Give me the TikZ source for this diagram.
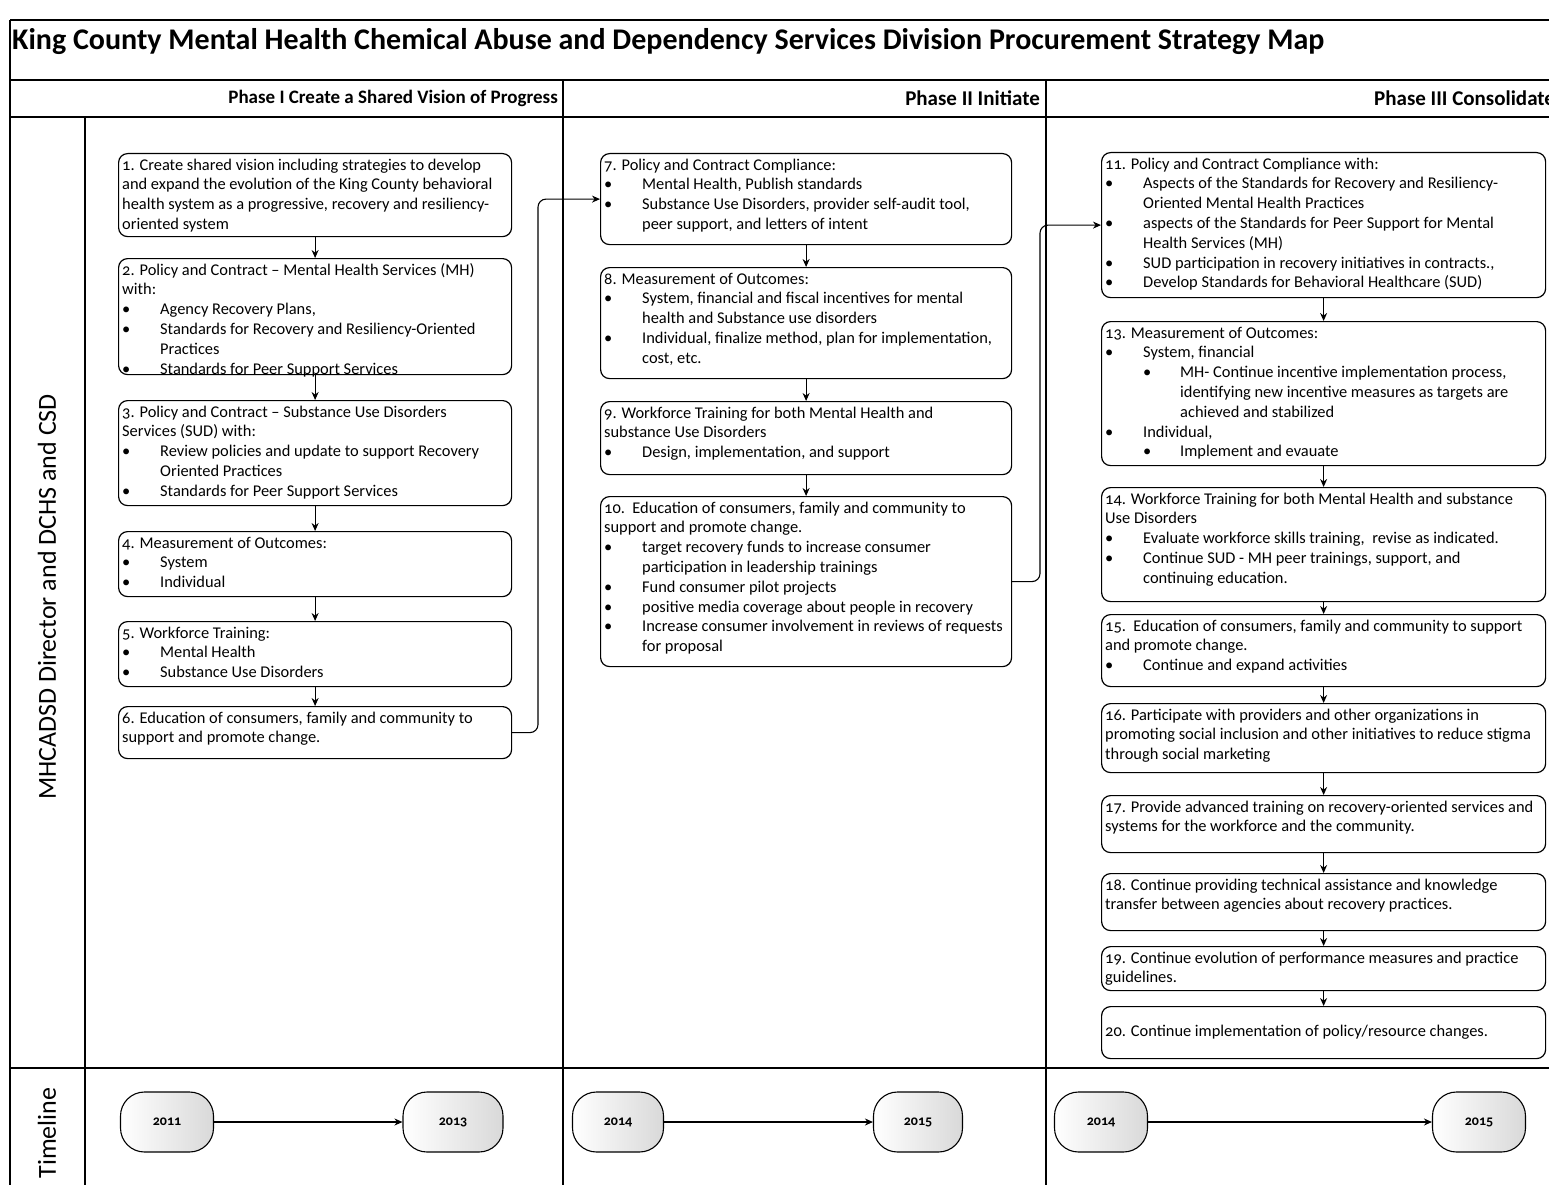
\documentclass[tikz,border=0pt]{standalone}
\usepackage{fontspec}
\setmainfont{Carlito}[Numbers=OldStyle]
\usetikzlibrary{arrows.meta,calc}
\newlength{\bind}\setlength{\bind}{38pt}
\newcommand{\bl}{\makebox[\bind][l]{\textbullet}}
\newcommand{\il}{\hspace*{\bind}}
\newcommand{\sbl}{\hspace*{\bind}\makebox[37pt][l]{\textbullet}}
\newcommand{\sil}{\hspace*{\bind}\hspace*{37pt}}
\tikzset{
  frame/.style={line width=1.2pt},
  box/.style={draw, line width=1.2pt, rounded corners=9pt},
  txt/.style={inner sep=0pt, align=left, anchor=north west, font=\fontsize{16.4}{19.8}\selectfont},
  flow/.style={line width=1.1pt, -{Stealth[length=8pt,width=7pt]}},
  year/.style={draw, line width=1.1pt, rounded corners=24pt, left color=white, right color=gray!30, font=\fontsize{14}{16}\selectfont\bfseries},
  phase/.style={inner sep=0pt, font=\fontsize{21}{23}\selectfont\bfseries},
}
\newcommand{\mkbox}[6]{%
  \node[box, anchor=north west, minimum width=#4pt, minimum height=#5pt, inner sep=0pt] (#1) at (#2,#3) {};
  \node[txt] (#1t) at ([shift={(4pt,-3pt)}]#1.north west) {\strut #6};
}
\begin{document}
\begin{tikzpicture}[x=1pt,y=-1pt]
\useasboundingbox (0,0) rectangle (1549,1185);
\fill[white] (0,0) rectangle (1549,1185);
% frame
\draw[frame] (10,20) -- (1549,20);
\draw[frame] (10,20) -- (10,1185);
\draw[frame] (10,80) -- (1549,80);
\draw[frame] (10,117) -- (1549,117);
\draw[frame] (10,1068) -- (1549,1068);
\draw[frame] (85,117) -- (85,1185);
\draw[frame] (563,80) -- (563,1185);
\draw[frame] (1046,80) -- (1046,1185);
% titles
\node[anchor=west, inner sep=0pt, font=\fontsize{30}{33}\selectfont\bfseries] (title) at (12,42) {King County Mental Health Chemical Abuse and Dependency Services Division Procurement Strategy Map};
\node[anchor=east, inner sep=0pt, font=\fontsize{19}{21}\selectfont\bfseries] (ph1) at (558,98) {Phase I Create a Shared Vision of Progress};
\node[phase, anchor=east] (ph2) at (1040,98) {Phase II Initiate};
\node[phase, anchor=west] (ph3) at (1374,98) {Phase III Consolidate};
\node[rotate=90, inner sep=0pt, font=\fontsize{26}{28}\selectfont] (lane) at (47,597) {MHCADSD Director and DCHS and CSD};
\node[rotate=90, inner sep=0pt, font=\fontsize{26}{28}\selectfont] (tl) at (47,1133) {Timeline};
% Phase I
\mkbox{b1}{118}{153}{393}{83}{1. Create shared vision including strategies to develop\\and expand the evolution of the King County behavioral\\health system as a progressive, recovery and resiliency-\\oriented system}
\mkbox{b2}{118}{258}{393}{116}{2. Policy and Contract -- Mental Health Services (MH)\\with:\\\bl Agency Recovery Plans,\\\bl Standards for Recovery and Resiliency-Oriented\\\il Practices\\\bl Standards for Peer Support Services}
\mkbox{b3}{118}{400}{393}{105}{3. Policy and Contract -- Substance Use Disorders\\Services (SUD) with:\\\bl Review policies and update to support Recovery\\\il Oriented Practices\\\bl Standards for Peer Support Services}
\mkbox{b4}{118}{531}{393}{65}{4. Measurement of Outcomes:\\\bl System\\\bl Individual}
\mkbox{b5}{118}{621}{393}{65}{5. Workforce Training:\\\bl Mental Health\\\bl Substance Use Disorders}
\mkbox{b6}{118}{706}{393}{52}{6. Education of consumers, family and community to\\support and promote change.}
% Phase II
\mkbox{b7}{600}{153}{411}{91}{7. Policy and Contract Compliance:\\\bl Mental Health, Publish standards\\\bl Substance Use Disorders, provider self-audit tool,\\\il peer support, and letters of intent}
\mkbox{b8}{600}{267}{411}{111}{8. Measurement of Outcomes:\\\bl System, financial and fiscal incentives for mental\\\il health and Substance use disorders\\\bl Individual, finalize method, plan for implementation,\\\il cost, etc.}
\mkbox{b9}{600}{401}{411}{73}{9. Workforce Training for both Mental Health and\\substance Use Disorders\\\bl Design, implementation, and support}
\mkbox{b10}{600}{496}{411}{170}{10.\ \ Education of consumers, family and community to\\support and promote change.\\\bl target recovery funds to increase consumer\\\il participation in leadership trainings\\\bl Fund consumer pilot projects\\\bl positive media coverage about people in recovery\\\bl Increase consumer involvement in reviews of requests\\\il for proposal}
% Phase III
\mkbox{b11}{1101}{152}{444}{145}{11. Policy and Contract Compliance with:\\\bl Aspects of the Standards for Recovery and Resiliency-\\\il Oriented Mental Health Practices\\\bl aspects of the Standards for Peer Support for Mental\\\il Health Services (MH)\\\bl SUD participation in recovery initiatives in contracts.,\\\bl Develop Standards for Behavioral Healthcare (SUD)}
\mkbox{b13}{1101}{321}{444}{144}{13. Measurement of Outcomes:\\\bl System, financial\\\sbl MH- Continue incentive implementation process,\\\sil identifying new incentive measures as targets are\\\sil achieved and stabilized\\\bl Individual,\\\sbl Implement and evauate}
\mkbox{b14}{1101}{487}{444}{114}{14. Workforce Training for both Mental Health and substance\\Use Disorders\\\bl Evaluate workforce skills training,\ \ revise as indicated.\\\bl Continue SUD - MH peer trainings, support, and\\\il continuing education.}
\mkbox{b15}{1101}{614}{444}{72}{15.\ \ Education of consumers, family and community to support\\and promote change.\\\bl Continue and expand activities}
\mkbox{b16}{1101}{703}{444}{69}{16. Participate with providers and other organizations in\\promoting social inclusion and other initiatives to reduce stigma\\through social marketing}
\mkbox{b17}{1101}{795}{444}{57}{17. Provide advanced training on recovery-oriented services and\\systems for the workforce and the community.}
\mkbox{b18}{1101}{873}{444}{57}{18. Continue providing technical assistance and knowledge\\transfer between agencies about recovery practices.}
\mkbox{b19}{1101}{946}{444}{44}{19. Continue evolution of performance measures and practice\\guidelines.}
\node[box, anchor=north west, minimum width=444pt, minimum height=52pt, inner sep=0pt] (b20) at (1101,1006) {};
\node[txt, anchor=west] (b20t) at ([xshift=4pt]b20.west) {20. Continue implementation of policy/resource changes.};
% flow arrows
\draw[flow] (b1) -- (b2);
\draw[flow] (b2) -- (b3);
\draw[flow] (b3) -- (b4);
\draw[flow] (b4) -- (b5);
\draw[flow] (b5) -- (b6);
\draw[flow] (b7) -- (b8);
\draw[flow] (b8) -- (b9);
\draw[flow] (b9) -- (b10);
\draw[flow] (b11) -- (b13);
\draw[flow] (b13) -- (b14);
\draw[flow] (b14) -- (b15);
\draw[flow] (b15) -- (b16);
\draw[flow] (b16) -- (b17);
\draw[flow] (b17) -- (b18);
\draw[flow] (b18) -- (b19);
\draw[flow] (b19) -- (b20);
\coordinate (k1) at (538,0);
\coordinate (k2) at (1040,0);
\draw[flow, rounded corners=8pt] (b6.east) -| (k1 |- b7.west) -- (b7.west);
\draw[flow, rounded corners=8pt] (b10.east) -| (k2 |- b11.west) -- (b11.west);
% timeline
\node[year, minimum width=93pt, minimum height=60pt] (y1a) at (167,1122) {2011};
\node[year, minimum width=100pt, minimum height=60pt] (y1b) at (453,1122) {2013};
\node[year, minimum width=91pt, minimum height=60pt] (y2a) at (618,1122) {2014};
\node[year, minimum width=89pt, minimum height=60pt] (y2b) at (918,1122) {2015};
\node[year, minimum width=93pt, minimum height=60pt] (y3a) at (1101,1122) {2014};
\node[year, minimum width=93pt, minimum height=60pt] (y3b) at (1479,1122) {2015};
\draw[flow] (y1a) -- (y1b);
\draw[flow] (y2a) -- (y2b);
\draw[flow] (y3a) -- (y3b);
\end{tikzpicture}
\end{document}
